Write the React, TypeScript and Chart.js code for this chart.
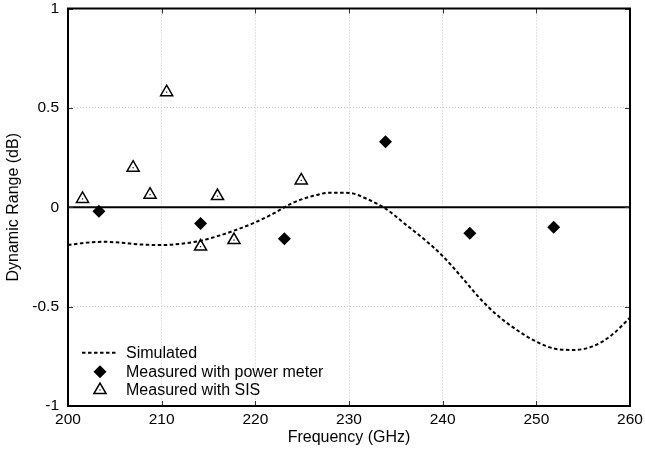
import React, { useEffect, useRef } from "react";
import { Chart, registerables } from "chart.js";

Chart.register(...registerables);

// ---- data ----
const simFreq = [200, 202, 204, 206, 208, 210, 212, 214, 216, 218, 220, 222, 224, 226, 228, 230, 232, 234, 236, 238, 240, 242, 244, 246, 248, 250, 252, 254, 256, 258, 260];
const simDb = [-0.19, -0.178, -0.174, -0.18, -0.188, -0.19, -0.184, -0.17, -0.145, -0.113, -0.076, -0.03, 0.022, 0.055, 0.073, 0.072, 0.04, -0.01, -0.085, -0.16, -0.245, -0.35, -0.46, -0.55, -0.62, -0.676, -0.712, -0.718, -0.7, -0.645, -0.556];

const pmFreq = [203.3, 214.15, 223.1, 233.9, 242.9, 251.85];
const pmDb = [-0.02, -0.082, -0.158, 0.33, -0.131, -0.101];

const sisFreq = [201.55, 206.95, 208.76, 210.53, 214.15, 215.96, 217.72, 224.9];
const sisDb = [0.042, 0.199, 0.063, 0.579, -0.198, 0.056, -0.165, 0.135];

const xTicks = [200, 210, 220, 230, 240, 250, 260];
const yTicks = [-1, -0.5, 0, 0.5, 1];
const yTickLabels = ["-1", "-0.5", "0", "0.5", "1"];
const legendLabels = ["Simulated", "Measured with power meter", "Measured with SIS"];
const xTitle = "Frequency (GHz)";
const yTitle = "Dynamic Range (dB)";

const FONT = "'Liberation Sans', Arial, Helvetica, sans-serif";

function diamond(ctx: CanvasRenderingContext2D, x: number, y: number, r: number) {
  ctx.beginPath();
  ctx.moveTo(x, y - r);
  ctx.lineTo(x + r, y);
  ctx.lineTo(x, y + r);
  ctx.lineTo(x - r, y);
  ctx.closePath();
  ctx.fillStyle = "#000";
  ctx.fill();
}

function triangle(ctx: CanvasRenderingContext2D, x: number, y: number, r: number) {
  ctx.beginPath();
  for (let i = 0; i < 3; i++) {
    const a = (i * 2 * Math.PI) / 3;
    const px = x + Math.sin(a) * r;
    const py = y - Math.cos(a) * r;
    if (i === 0) ctx.moveTo(px, py);
    else ctx.lineTo(px, py);
  }
  ctx.closePath();
  ctx.fillStyle = "#fff";
  ctx.fill();
  ctx.lineWidth = 1.5;
  ctx.strokeStyle = "#000";
  ctx.setLineDash([]);
  ctx.stroke();
  ctx.fillStyle = "#000";
  ctx.fillRect(x - 0.6, y - 0.6, 1.2, 1.2);
}

const framePlugin = {
  id: "framePlugin",
  beforeDatasetsDraw(chart: any) {
    const { ctx, chartArea: a, scales } = chart;
    const x = scales.x;
    const y = scales.y;
    ctx.save();
    ctx.setLineDash([]);
    // zero line
    const y0 = y.getPixelForValue(0);
    ctx.strokeStyle = "#000";
    ctx.lineWidth = 2;
    ctx.beginPath();
    ctx.moveTo(a.left, y0);
    ctx.lineTo(a.right, y0);
    ctx.stroke();
    // inward ticks
    ctx.lineWidth = 1;
    ctx.strokeStyle = "#333";
    ctx.beginPath();
    xTicks.forEach((v) => {
      const px = Math.round(x.getPixelForValue(v)) + 0.5;
      ctx.moveTo(px, a.bottom);
      ctx.lineTo(px, a.bottom - 5);
      ctx.moveTo(px, a.top);
      ctx.lineTo(px, a.top + 5);
    });
    yTicks.forEach((v) => {
      const py = Math.round(y.getPixelForValue(v)) + 0.5;
      ctx.moveTo(a.left, py);
      ctx.lineTo(a.left + 5, py);
      ctx.moveTo(a.right, py);
      ctx.lineTo(a.right - 5, py);
    });
    ctx.stroke();
    // frame
    ctx.lineWidth = 2;
    ctx.strokeStyle = "#000";
    ctx.strokeRect(a.left, a.top, a.right - a.left, a.bottom - a.top);
    ctx.restore();
  },
  afterDatasetsDraw(chart: any) {
    const { ctx, chartArea: a } = chart;
    ctx.save();
    // dots inside triangles
    const meta = chart.getDatasetMeta(2);
    ctx.fillStyle = "#000";
    meta.data.forEach((pt: any) => {
      ctx.fillRect(pt.x - 0.6, pt.y - 0.6, 1.2, 1.2);
    });
    // legend
    const rows = [a.bottom - 53.3, a.bottom - 34.3, a.bottom - 16];
    const lx0 = a.left + 14;
    const lx1 = a.left + 50;
    const mx = a.left + 32;
    const tx = a.left + 58;
    ctx.strokeStyle = "#000";
    ctx.lineWidth = 2;
    ctx.setLineDash([3.5, 2.5]);
    ctx.beginPath();
    ctx.moveTo(lx0, rows[0]);
    ctx.lineTo(lx1, rows[0]);
    ctx.stroke();
    ctx.setLineDash([]);
    diamond(ctx, mx, rows[1], 6.5);
    triangle(ctx, mx, rows[2], 7);
    ctx.fillStyle = "#000";
    ctx.font = `16px ${FONT}`;
    ctx.textAlign = "left";
    ctx.textBaseline = "middle";
    legendLabels.forEach((t, i) => ctx.fillText(t, tx, rows[i] + 0.5));
    ctx.restore();
  },
};

export default function App() {
  const ref = useRef<HTMLCanvasElement>(null);
  useEffect(() => {
    document.body.style.margin = "0";
    const canvas = ref.current!;
    const chart = new Chart(canvas, {
      type: "scatter",
      data: {
        datasets: [
          {
            type: "line",
            label: legendLabels[0],
            data: simFreq.map((f, i) => ({ x: f, y: simDb[i] })),
            borderColor: "#000",
            borderWidth: 2,
            borderDash: [3.5, 2.5],
            pointRadius: 0,
            fill: false,
            cubicInterpolationMode: "monotone",
          },
          {
            label: legendLabels[1],
            data: pmFreq.map((f, i) => ({ x: f, y: pmDb[i] })),
            pointStyle: "rectRot",
            pointRadius: 6.5,
            pointHoverRadius: 6.5,
            backgroundColor: "#000",
            borderColor: "#000",
            borderWidth: 0,
          },
          {
            label: legendLabels[2],
            data: sisFreq.map((f, i) => ({ x: f, y: sisDb[i] })),
            pointStyle: "triangle",
            pointRadius: 7,
            pointHoverRadius: 7,
            backgroundColor: "#fff",
            borderColor: "#000",
            borderWidth: 1.5,
          },
        ],
      } as any,
      options: {
        responsive: false,
        animation: false,
        events: [],
        layout: { padding: { top: 0, right: 15, left: 0, bottom: 0 } },
        plugins: { legend: { display: false }, tooltip: { enabled: false } },
        scales: {
          x: {
            type: "linear",
            min: 200,
            max: 260,
            afterBuildTicks: (s: any) => {
              s.ticks = xTicks.map((v) => ({ value: v }));
            },
            afterFit: (s: any) => {
              s.height = 44;
            },
            ticks: {
              color: "#000",
              font: { family: FONT, size: 15.5 },
              padding: 0,
              maxRotation: 0,
              callback: (v: any) => String(v),
            },
            grid: {
              color: "#c4c4c4",
              lineWidth: 1,
              drawTicks: true,
              tickLength: 4,
              tickColor: "rgba(0,0,0,0)",
            },
            border: { display: false, dash: [1, 2] },
            title: {
              display: true,
              text: xTitle,
              color: "#000",
              font: { family: FONT, size: 16 },
              padding: { top: 0, bottom: 3 },
            },
          },
          y: {
            type: "linear",
            min: -1,
            max: 1,
            afterBuildTicks: (s: any) => {
              s.ticks = yTicks.map((v) => ({ value: v }));
            },
            afterFit: (s: any) => {
              s.width = 68;
            },
            ticks: {
              color: "#000",
              font: { family: FONT, size: 15.5, lineHeight: 1 },
              padding: 0,
              callback: (v: any) => {
                const i = yTicks.indexOf(Number(v));
                return i >= 0 ? yTickLabels[i] : "";
              },
            },
            grid: {
              color: "#c4c4c4",
              lineWidth: 1,
              drawTicks: true,
              tickLength: 9,
              tickColor: "rgba(0,0,0,0)",
            },
            border: { display: false, dash: [1, 2] },
            title: {
              display: true,
              text: yTitle,
              color: "#000",
              font: { family: FONT, size: 16 },
              padding: { top: 4, bottom: 0 },
            },
          },
        },
      } as any,
      plugins: [framePlugin],
    });
    return () => chart.destroy();
  }, []);
  return <canvas ref={ref} width={645} height={450} style={{ display: "block" }} />;
}
